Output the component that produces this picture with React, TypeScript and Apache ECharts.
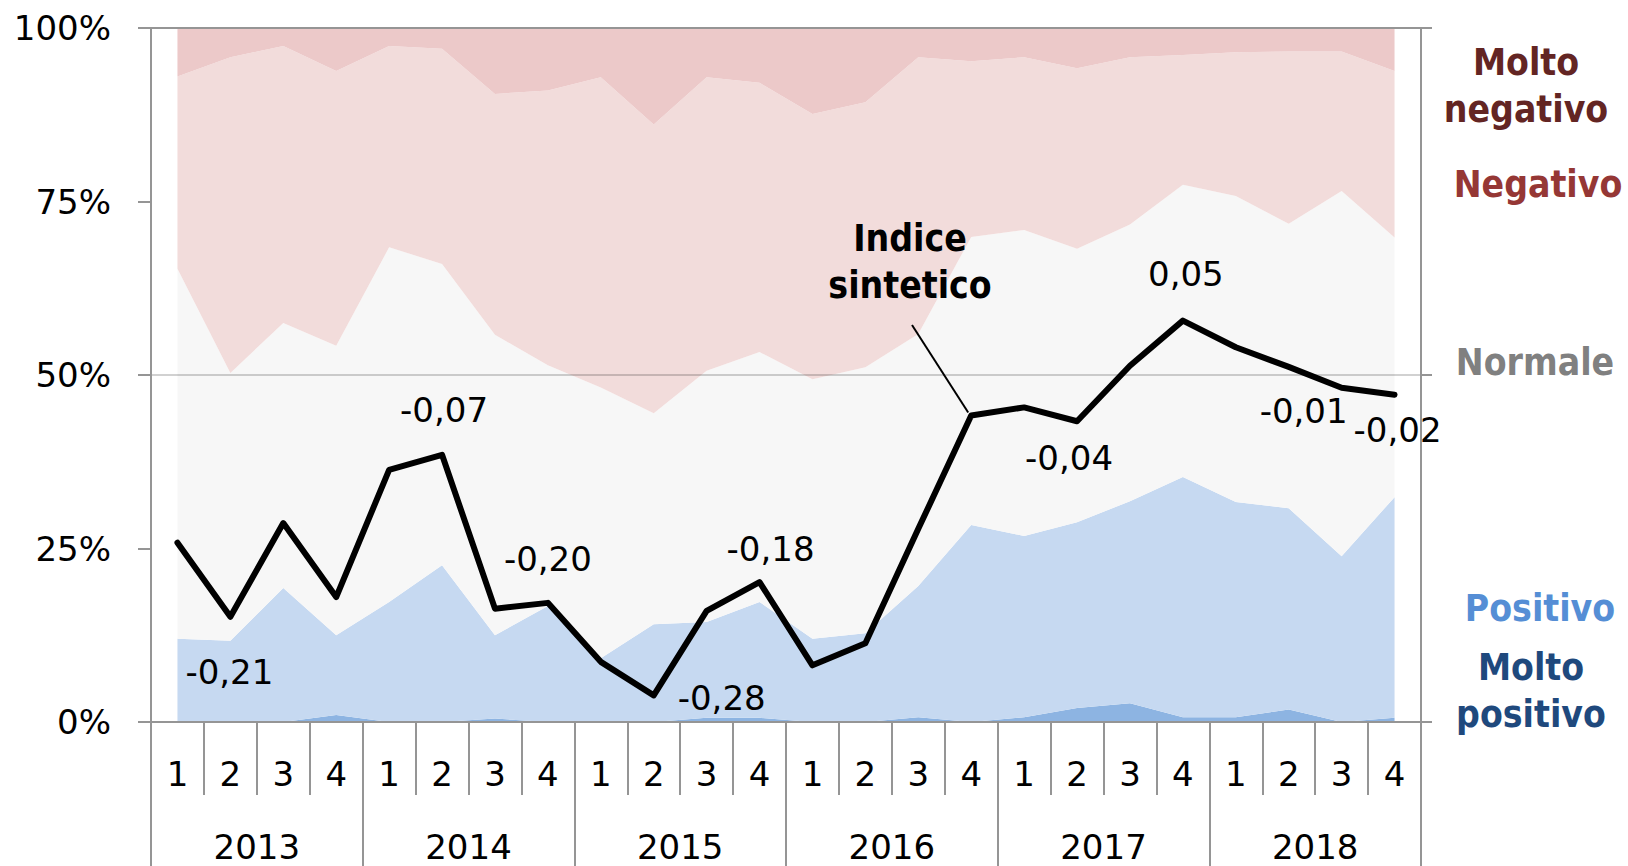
import React, { useEffect, useRef } from "react";
import * as echarts from "echarts";

// ---- data ----
const years = ["2013", "2014", "2015", "2016", "2017", "2018"];
const quarters = ["1", "2", "3", "4"];
const categories = years.flatMap((y) => quarters.map((q) => `${y}-${q}`));

// shares (%) of each class, stacked bottom -> top
const moltoPositivo = [0, 0, 0, 1.0, 0, 0, 0.5, 0, 0, 0, 0.6, 0.6, 0, 0, 0.7, 0, 0.7, 2.0, 2.7, 0.7, 0.7, 1.8, 0, 0.6];
const positivo = [12.0, 11.7, 19.3, 11.5, 17.3, 22.6, 12.0, 16.7, 9.2, 14.1, 13.8, 16.7, 12.0, 12.8, 18.9, 28.4, 26.1, 26.8, 29.1, 34.6, 31.0, 29.0, 23.9, 31.8];
const normale = [53.3, 38.6, 38.2, 41.7, 51.1, 43.4, 43.3, 34.7, 39.0, 30.4, 36.2, 36.0, 37.4, 38.3, 36.3, 41.5, 44.1, 39.4, 39.9, 42.1, 44.1, 41.0, 52.6, 37.4];
const negativo = [27.7, 45.5, 39.9, 39.6, 29.0, 31.0, 34.7, 39.6, 44.7, 41.6, 42.3, 38.8, 38.2, 38.2, 39.9, 25.3, 24.9, 26.0, 24.1, 18.7, 20.7, 24.8, 20.1, 24.0];
const moltoNegativo = [7.0, 4.2, 2.6, 6.2, 2.6, 3.0, 9.5, 9.0, 7.1, 13.9, 7.1, 7.9, 12.4, 10.7, 4.2, 4.8, 4.2, 5.8, 4.2, 3.9, 3.5, 3.4, 3.4, 6.2];

// synthetic index (secondary axis, -0.3 .. 0.3)
const indice = [-0.145, -0.209, -0.128, -0.192, -0.082, -0.069, -0.202, -0.197, -0.248, -0.277, -0.204, -0.179, -0.251, -0.232, -0.133, -0.035, -0.028, -0.04, 0.008, 0.047, 0.024, 0.007, -0.011, -0.017];

const yTicks = [0, 25, 50, 75, 100];

// which index points carry a value label, and where (pixel offset from the point)
const labelOffsets: Record<number, [number, number]> = {
  1: [-1, 55],
  5: [2, -45],
  7: [0, -44],
  9: [68, 3],
  11: [11, -33],
  17: [-8, 37],
  19: [3, -47],
  22: [-38, 23],
  23: [3, 35],
};

const F = "'DejaVu Sans', Verdana, sans-serif";
const FB = "'DejaVu Sans Condensed', 'DejaVu Sans', sans-serif";
const AX = "#959595";

const areaSeries = [
  { name: "Molto positivo", data: moltoPositivo, color: "#8db4e2" },
  { name: "Positivo", data: positivo, color: "#c6d9f1" },
  { name: "Normale", data: normale, color: "#f7f7f7" },
  { name: "Negativo", data: negativo, color: "#f2dcdb" },
  { name: "Molto negativo", data: moltoNegativo, color: "#ecc9c9" },
];

const fmt = (v: number) => v.toFixed(2).replace(".", ",");

export default function App() {
  const ref = useRef<HTMLDivElement>(null);
  useEffect(() => {
    if (!ref.current) return;
    const chart = echarts.init(ref.current, undefined, { renderer: "svg" });
    const option: any = {
      animation: false,
      backgroundColor: "#ffffff",
      grid: { left: 151, right: 207, top: 28, bottom: 144 },
      xAxis: [
        {
          type: "category",
          data: categories,
          position: "bottom",
          boundaryGap: true,
          z: 3,
          axisLine: { show: true, onZero: false, lineStyle: { color: AX, width: 2 } },
          axisTick: { show: true, interval: 0, length: 73, lineStyle: { color: AX, width: 2 } },
          axisLabel: {
            interval: 0,
            margin: 52,
            verticalAlign: "middle",
            formatter: (v: string) => v.split("-")[1],
            fontSize: 34,
            fontFamily: F,
            color: "#000",
          },
          splitLine: { show: false },
        },
        {
          type: "category",
          data: years,
          position: "bottom",
          boundaryGap: true,
          z: 3,
          axisLine: { show: false, onZero: false },
          axisTick: { show: true, interval: 0, length: 144, lineStyle: { color: AX, width: 2 } },
          axisLabel: {
            interval: 0,
            margin: 125,
            verticalAlign: "middle",
            fontSize: 34,
            fontFamily: F,
            color: "#000",
          },
          splitLine: { show: false },
        },
        {
          type: "category",
          data: categories,
          position: "top",
          z: 3,
          axisLine: { show: true, onZero: false, lineStyle: { color: AX, width: 2 } },
          axisTick: { show: false },
          axisLabel: { show: false },
          splitLine: { show: false },
        },
      ],
      yAxis: [
        {
          type: "value",
          min: yTicks[0],
          max: yTicks[yTicks.length - 1],
          interval: 25,
          position: "left",
          z: 3,
          axisLine: { show: true, onZero: false, lineStyle: { color: AX, width: 2 } },
          axisTick: { show: true, length: 13, lineStyle: { color: AX, width: 2 } },
          axisLabel: { formatter: "{value}%", fontSize: 34, fontFamily: F, color: "#000", margin: 40 },
          splitLine: { show: false },
        },
        {
          type: "value",
          min: -0.3,
          max: 0.3,
          interval: 0.3,
          position: "right",
          z: 3,
          axisLine: { show: true, onZero: false, lineStyle: { color: AX, width: 2 } },
          axisTick: { show: true, length: 11, lineStyle: { color: AX, width: 2 } },
          axisLabel: { show: false },
          splitLine: { show: true, lineStyle: { color: "rgba(0,0,0,0.18)", width: 2 } },
        },
      ],
      series: [
        ...areaSeries.map((s) => ({
          name: s.name,
          type: "line",
          stack: "tot",
          data: s.data,
          xAxisIndex: 0,
          yAxisIndex: 0,
          symbol: "none",
          showSymbol: false,
          z: 2,
          lineStyle: { width: 0, opacity: 0 },
          areaStyle: { color: s.color, opacity: 1 },
          silent: true,
        })),
        {
          name: "Indice sintetico",
          type: "line",
          xAxisIndex: 0,
          yAxisIndex: 1,
          z: 5,
          symbol: "circle",
          symbolSize: 1,
          showSymbol: true,
          showAllSymbol: true,
          itemStyle: { color: "#000" },
          lineStyle: { color: "#000", width: 6, cap: "round", join: "round" },
          label: {
            show: false,
            position: "inside",
            fontSize: 34,
            fontFamily: F,
            color: "#000",
            formatter: (p: any) => fmt(p.value),
          },
          data: indice.map((v, i) =>
            labelOffsets[i]
              ? { value: v, label: { show: true, position: "inside", offset: labelOffsets[i] } }
              : v
          ),
        },
      ],
    };
    chart.setOption(option);

    const pt = chart.convertToPixel({ seriesIndex: 5 }, [15, indice[15]]) as number[];
    const sideText = (text: string, x: number, y: number, color: string) => ({
      type: "text",
      x,
      y,
      z: 10,
      style: {
        text,
        fill: color,
        font: `bold 37px ${FB}`,
        align: "center",
        verticalAlign: "middle",
        lineHeight: 47,
      },
    });
    chart.setOption({
      graphic: [
        {
          type: "line",
          z: 10,
          shape: { x1: 912, y1: 325, x2: pt[0] - 3, y2: pt[1] - 3 },
          style: { stroke: "#000", lineWidth: 2 },
        },
        {
          type: "text",
          x: 910,
          y: 262,
          z: 10,
          style: {
            text: "Indice\nsintetico",
            fill: "#000",
            font: `bold 37px ${FB}`,
            align: "center",
            verticalAlign: "middle",
            lineHeight: 47,
          },
        },
        sideText("Molto\nnegativo", 1526, 86, "#632523"),
        sideText("Negativo", 1538, 184, "#953735"),
        sideText("Normale", 1535, 362, "#808080"),
        sideText("Positivo", 1540, 608, "#558ed5"),
        sideText("Molto\npositivo", 1531, 691, "#1f497d"),
      ],
    });

    return () => chart.dispose();
  }, []);
  return (
    <div
      ref={ref}
      style={{ position: "fixed", left: 0, top: 0, width: 1628, height: 866 }}
    />
  );
}
